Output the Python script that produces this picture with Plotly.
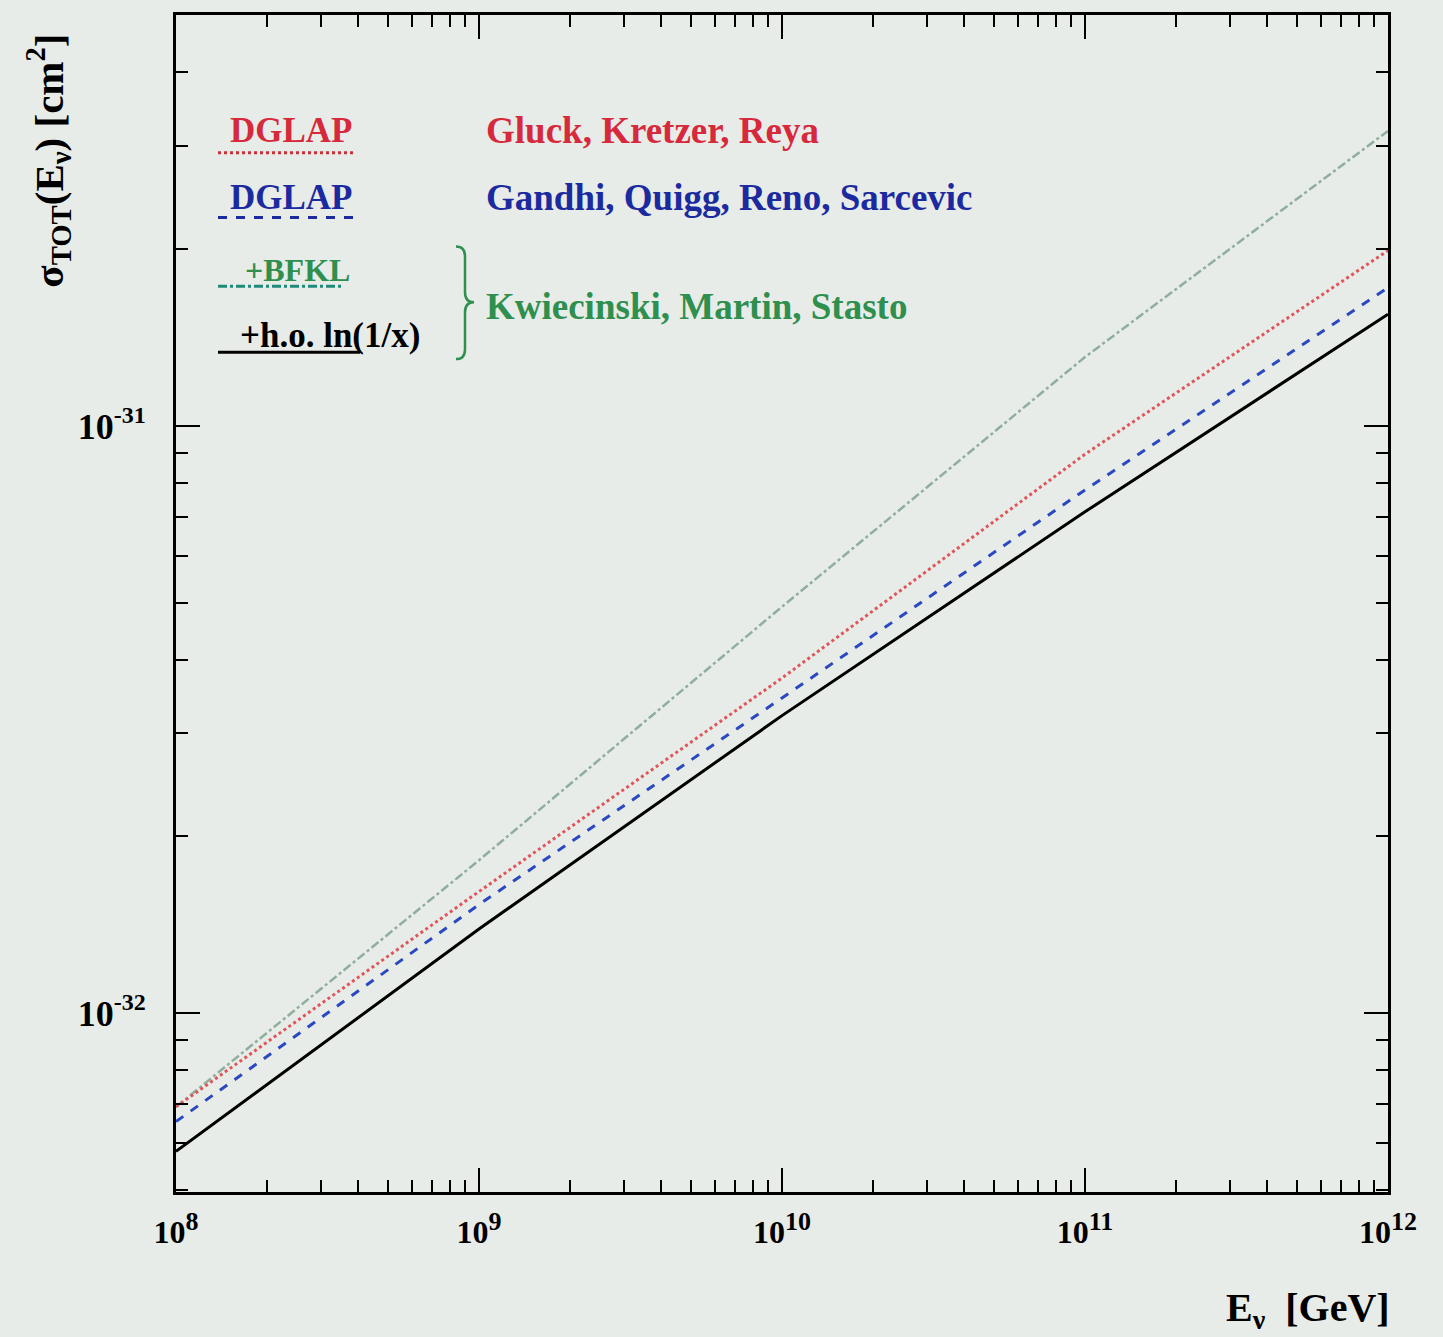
import plotly.graph_objects as go

# ---- data ----
energy_gev = [1e8, 1e9, 1e10, 1e11, 1e12]
sigma_gkr_dglap = [6.92e-33, 1.61e-32, 3.72e-32, 8.95e-32, 1.99e-31]     # red dotted
sigma_gqrs_dglap = [6.53e-33, 1.53e-32, 3.44e-32, 7.78e-32, 1.72e-31]    # blue dashed
sigma_kms_bfkl = [6.92e-33, 1.82e-32, 4.92e-32, 1.31e-31, 3.18e-31]      # green dash-dot
sigma_kms_ho = [5.81e-33, 1.39e-32, 3.21e-32, 7.14e-32, 1.55e-31]        # black solid

x_tickvals = [1e8, 1e9, 1e10, 1e11, 1e12]
x_exponents = ["8", "9", "10", "11", "12"]
y_tickvals = [1e-32, 1e-31]
y_exponents = ["-32", "-31"]

RED = "#d62a3c"
BLUE = "#1c2aa0"
GREEN = "#2e8f4e"
BG = "#e8ece8"
FONT = "Liberation Serif"

x_ticktext = [f'10<sup><span style="font-size:26px">{e}</span></sup>' for e in x_exponents]
y_ticktext = [f'10<sup><span style="font-size:24px">{e}</span></sup>' for e in y_exponents]

fig = go.Figure()
fig.add_trace(go.Scatter(x=energy_gev, y=sigma_kms_bfkl, mode="lines",
                         line=dict(color="#8fae9c", width=2.5, dash="dashdot"), showlegend=False))
fig.add_trace(go.Scatter(x=energy_gev, y=sigma_gkr_dglap, mode="lines",
                         line=dict(color="#e0555a", width=3, dash="dot"), showlegend=False))
fig.add_trace(go.Scatter(x=energy_gev, y=sigma_gqrs_dglap, mode="lines",
                         line=dict(color="#2a48c0", width=3, dash="dash"), showlegend=False))
fig.add_trace(go.Scatter(x=energy_gev, y=sigma_kms_ho, mode="lines",
                         line=dict(color="black", width=3), showlegend=False))

axis_common = dict(
    type="log", showgrid=False, zeroline=False,
    showline=True, linecolor="black", linewidth=3, mirror="allticks",
    ticks="inside", ticklen=24, tickwidth=2, tickcolor="black",
    minor=dict(ticks="inside", ticklen=12, tickwidth=2, tickcolor="black",
               showgrid=False, dtick="D1"),
)

fig.update_xaxes(range=[8, 12], tickvals=x_tickvals, ticktext=x_ticktext,
                 ticklabelstandoff=10,
                 tickfont=dict(family=FONT, size=32, color="black", weight="bold"),
                 **axis_common)
fig.update_yaxes(range=[-32.305, -30.3], tickvals=y_tickvals, ticktext=y_ticktext,
                 ticklabelstandoff=20,
                 tickfont=dict(family=FONT, size=36, color="black", weight="bold"),
                 **axis_common)

W, H = 1443, 1337
L, R, T, B = 176, 55, 12, 145
pw, ph = W - L - R, H - T - B


def px(xpix):
    return (xpix - L) / pw


def py(ypix):
    return (H - B - ypix) / ph


anns = []
# axis titles
anns.append(dict(text="σ<sub>TOT</sub>(E<sub>ν</sub>) [cm<sup>2</sup>]", textangle=-90,
                 x=px(48), y=py(158), xref="paper", yref="paper", xanchor="center", yanchor="middle",
                 showarrow=False, font=dict(family=FONT, size=41, color="black", weight="bold")))
anns.append(dict(text="E<sub>ν</sub>  [GeV]", x=px(1392), y=py(1310), xref="paper", yref="paper",
                 xanchor="right", yanchor="middle", showarrow=False,
                 font=dict(family=FONT, size=40, color="black", weight="bold")))

# legend texts
legend_rows = [
    ("DGLAP", RED, 228, 128, 35),
    ("DGLAP", BLUE, 228, 195, 35),
    ("+BFKL", GREEN, 243, 268, 32),
    ("+h.o. ln(1/x)", "black", 238, 333, 35),
]
for txt, col, xl, yc, fs in legend_rows:
    anns.append(dict(text=txt, x=px(xl), y=py(yc), xref="paper", yref="paper",
                     xanchor="left", yanchor="middle", showarrow=False,
                     font=dict(family=FONT, size=fs, color=col, weight="bold")))

authors = [
    ("Gluck, Kretzer, Reya", RED, 128),
    ("Gandhi, Quigg, Reno, Sarcevic", BLUE, 195),
    ("Kwiecinski, Martin, Stasto", GREEN, 304),
]
for txt, col, yc in authors:
    anns.append(dict(text=txt, x=px(484), y=py(yc), xref="paper", yref="paper",
                     xanchor="left", yanchor="middle", showarrow=False,
                     font=dict(family=FONT, size=37, color=col, weight="bold")))

shapes = []
sample_lines = [
    (150, 218, 355, "#c8303a", "dot", 3),
    (215, 218, 357, BLUE, "dash", 3),
    (284, 218, 342, "#1f8a7a", "dashdot", 3),
    (350, 218, 360, "black", "solid", 3),
]
for yv, x0, x1, col, dash, w in sample_lines:
    shapes.append(dict(type="line", xref="paper", yref="paper",
                       x0=px(x0), x1=px(x1), y0=py(yv), y1=py(yv),
                       line=dict(color=col, width=w, dash=dash)))

# curly brace grouping the KMS entries
bx0, bx1, bx2 = px(456), px(465), px(474)
by_top, by_mid, by_bot = py(244), py(300), py(357)
dy = py(244) - py(254)
brace_path = (
    f"M {bx0},{by_top} Q {bx1},{by_top} {bx1},{by_top - dy} "
    f"L {bx1},{by_mid + dy} Q {bx1},{by_mid} {bx2},{by_mid} "
    f"Q {bx1},{by_mid} {bx1},{by_mid - dy} "
    f"L {bx1},{by_bot + dy} Q {bx1},{by_bot} {bx0},{by_bot}"
)
shapes.append(dict(type="path", xref="paper", yref="paper", path=brace_path,
                   line=dict(color=GREEN, width=2.5)))

fig.update_layout(
    width=W, height=H,
    margin=dict(l=L, r=R, t=T, b=B),
    paper_bgcolor=BG, plot_bgcolor=BG,
    annotations=anns, shapes=shapes,
    showlegend=False,
)

fig.write_html(
    "out.html",
    config={"displayModeBar": False},
    post_script="document.body.style.margin='0';document.body.style.background='#e8ece8';",
)
